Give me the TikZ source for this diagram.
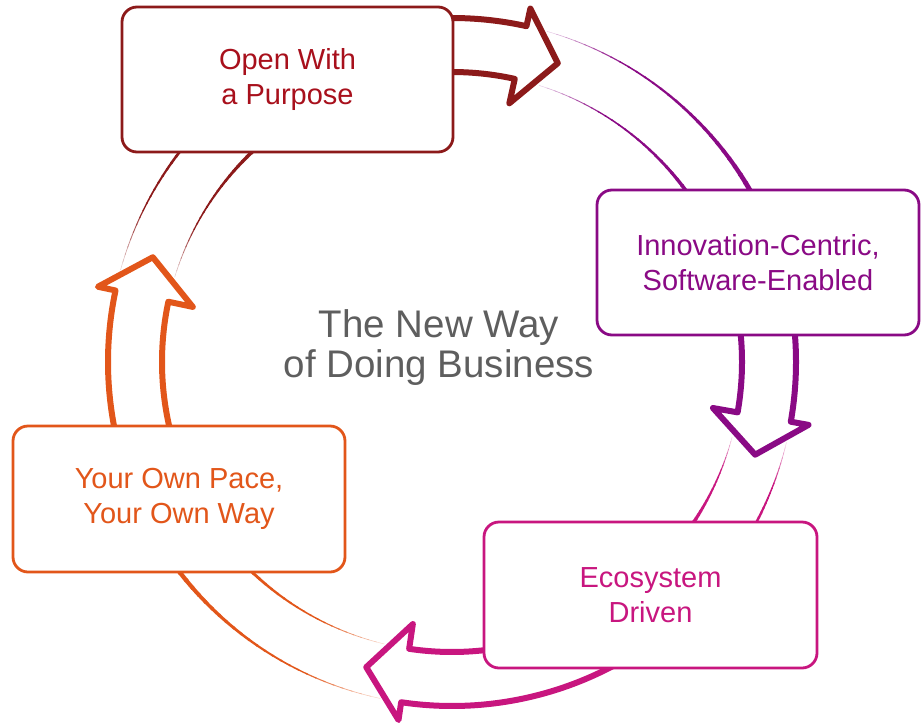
\documentclass[tikz,border=0pt]{standalone}
\usepackage{fontspec}
\setmainfont{Liberation Sans}
\definecolor{cred}{HTML}{8C1A1A}
\definecolor{credtxt}{HTML}{A8101C}
\definecolor{cpur}{HTML}{8A0A85}
\definecolor{cpink}{HTML}{C8167F}
\definecolor{corg}{HTML}{E2561A}
\definecolor{cgray}{HTML}{5E5E5E}
% tapered, fading arc: #1 colour, #2 radius, #3 start angle, #4 end angle, #5 final width
\newcommand\tailarc[5]{%
 \foreach \i in {1,...,30}{%
  \pgfmathsetmacro\tA{#3+(#4-#3)*(\i-1)/30}%
  \pgfmathsetmacro\tB{#3+(#4-#3)*(\i+0.2)/30}%
  \pgfmathsetmacro\tW{0.4+(#5-0.4)*(\i/30)^1.4}%
  \pgfmathtruncatemacro\tC{min(100,15+280*\i/30)}%
  \draw[line width=\tW pt, color=#1!\tC!white] (\tA:#2pt) arc[start angle=\tA, end angle=\tB, radius=#2pt];%
 }}
% curved block arrow: #1 colour, #2 start angle, #3 head base angle, #4 tip angle
\newcommand\cyclearrow[4]{%
 \draw[ringarrow=#1] (#2:344pt) arc[start angle=#2, end angle=#3, radius=344pt]
   -- (#3:362pt) -- (#4:317pt) -- (#3:265pt) -- (#3:290pt)
   arc[start angle=#3, end angle=#2, radius=290pt];}
\begin{document}
\begin{tikzpicture}[x=1pt,y=1pt,
  stagebox/.style={draw=#1, line width=2.8pt, rounded corners=15pt, fill=white,
    align=center, font=\fontsize{29}{34.5}\selectfont, inner sep=0pt},
  ringarrow/.style={draw=#1, line width=6pt, line join=round}]
\useasboundingbox (0,0) rectangle (921,-726);
\begin{scope}[shift={(452,-362)}]
 % tails leading into each box
 \tailarc{cred}{344}{164.5}{125}{5.5}
 \tailarc{cred}{290}{163}{125}{5}
 \tailarc{cpur}{344}{74}{25}{5.5}
 \tailarc{cpur}{290}{72.5}{25}{5}
 \tailarc{cpink}{344}{-13.5}{-40}{5.5}
 \tailarc{cpink}{290}{-15}{-40}{5}
 \tailarc{corg}{344}{-102}{-150}{5.5}
 \tailarc{corg}{290}{-103.5}{-150}{5}
 % block arrows
 \cyclearrow{cred}{95}{77.5}{70.5}
 \cyclearrow{cpur}{10}{-10}{-17}
 \cyclearrow{cpink}{-55}{-98.5}{-105.7}
 \cyclearrow{corg}{-150}{-192}{-199.3}
\end{scope}
\node[stagebox=cred, text=credtxt, minimum width=331pt, minimum height=145pt] (open) at (287.5,-79.5) {Open With\\a Purpose};
\node[stagebox=cpur, text=cpur, minimum width=322pt, minimum height=145pt] (innov) at (758,-262.5) {Innovation-Centric,\\Software-Enabled};
\node[stagebox=cpink, text=cpink, minimum width=333pt, minimum height=146pt] (eco) at (650.5,-595) {Ecosystem\\Driven};
\node[stagebox=corg, text=corg, minimum width=332pt, minimum height=146pt] (pace) at (179,-499) {Your Own Pace,\\Your Own Way};
\node[font=\fontsize{38.5}{39.5}\selectfont, text=cgray, align=center, inner sep=0pt] (title) at (439,-347.5) {The New Way\\of Doing Business};
\end{tikzpicture}
\end{document}
